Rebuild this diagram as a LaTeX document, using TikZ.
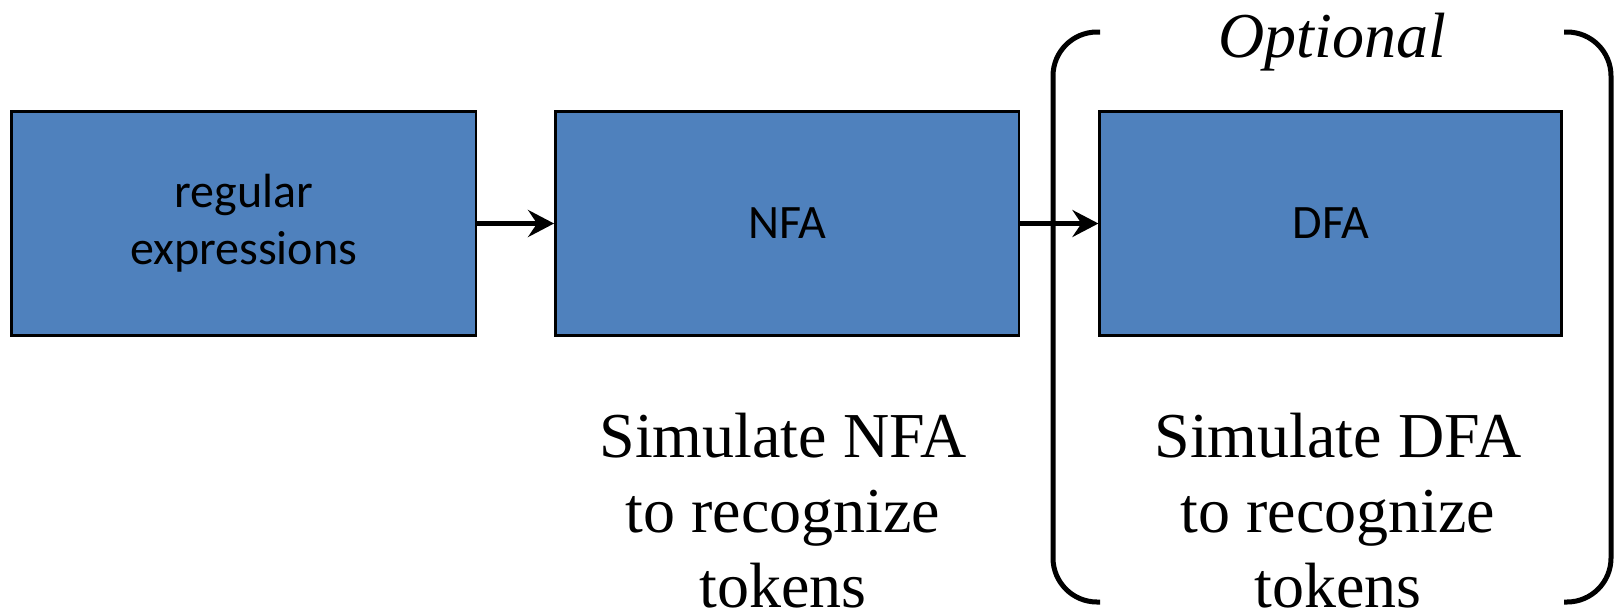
\documentclass[tikz,border=0pt]{standalone}
\usepackage{fontspec}
\setmainfont{Liberation Serif}
\newfontfamily\boxfont{Carlito}
\usetikzlibrary{arrows.meta}
\definecolor{boxblue}{HTML}{4F81BD}
\tikzset{
  stagebox/.style={draw=black, line width=2.8pt, fill=boxblue, inner sep=0pt,
    minimum height=224pt, align=center, font=\boxfont\fontsize{48}{57}\selectfont},
  flow/.style={line width=5.5pt, -{Stealth[length=26pt, width=27pt, inset=9pt]}},
  bracketline/.style={line width=5pt, rounded corners=44pt},
  caption/.style={align=center, font=\fontsize{64}{75}\selectfont}
}
\begin{document}
\begin{tikzpicture}[x=1pt,y=-1pt]
\useasboundingbox (0,0) rectangle (1619,614);
\node[stagebox, minimum width=464.6pt] (re) at (243.7,223.5) {regular\\expressions};
\node[stagebox, minimum width=463.5pt] (nfa) at (787.2,223.5) {NFA};
\node[stagebox, minimum width=462pt] (dfa) at (1330.8,223.5) {DFA};
\draw[flow] (re.east) -- (nfa.west);
\draw[flow] (nfa.east) -- (dfa.west);
\coordinate (lt) at (1100,32);
\coordinate (lb) at (1100,602);
\coordinate (rt) at (1564,32);
\coordinate (rb) at (1564,602);
\draw[bracketline] (lt) -- (1053,32) -- (1053,602) -- (lb);
\draw[bracketline] (rt) -- (1611,32) -- (1611,602) -- (rb);
\node[anchor=base, font=\itshape\fontsize{64}{75}\selectfont] (opt) at (1332,57) {Optional};
\node[caption] (simnfa) at (783,511) {Simulate NFA\\to recognize\\tokens};
\node[caption] (simdfa) at (1338,511) {Simulate DFA\\to recognize\\tokens};
\end{tikzpicture}
\end{document}
